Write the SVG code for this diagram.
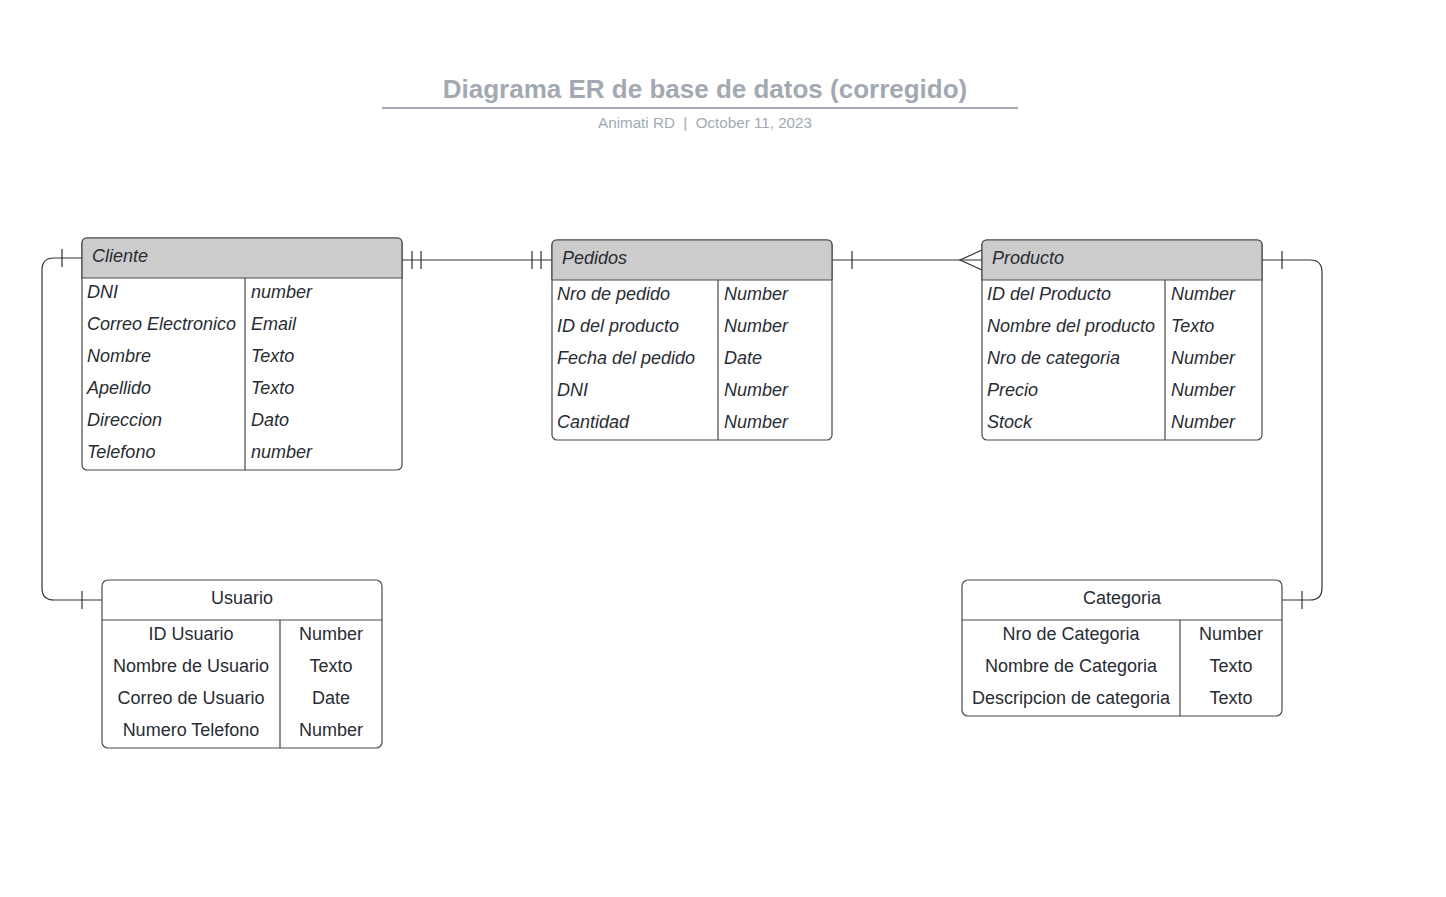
<svg xmlns="http://www.w3.org/2000/svg" width="1446" height="897" viewBox="0 0 1446 897">
<style>
.box{fill:#ffffff;stroke:#4a4a4a;stroke-width:1.2}
.hdr{fill:#cccccc;stroke:#4a4a4a;stroke-width:1.2}
.sep{stroke:#4a4a4a;stroke-width:1.2;fill:none}
.t{font-family:"Liberation Sans",Arial,sans-serif;font-size:18px;fill:#282c33}
.i{font-style:italic}
.c{text-anchor:middle}
.ln{stroke:#333333;stroke-width:1.2;fill:none}
</style>
<rect width="1446" height="897" fill="#ffffff"/>
<g id="title">
<text x="705" y="98" text-anchor="middle" font-family="Liberation Sans,Arial,sans-serif" font-size="26" font-weight="bold" fill="#a3a9b3">Diagrama ER de base de datos (corregido)</text>
<line x1="382" y1="108" x2="1018" y2="108" stroke="#a3a9b3" stroke-width="2"/>
<text x="705" y="128" text-anchor="middle" font-family="Liberation Sans,Arial,sans-serif" font-size="15.2" fill="#a3a9b3" xml:space="preserve">Animati RD  |  October 11, 2023</text>
</g>
<g id="connectors">
<path class="ln" d="M402 260 H552"/>
<path class="ln" d="M412 251 V269 M421 251 V269 M532 251 V269 M541 251 V269"/>
<path class="ln" d="M832 260 H982"/>
<path class="ln" d="M852 251 V269 M982 250 L960 260 L982 270"/>
<path class="ln" d="M1262 260 H1310 Q1322 260 1322 272 V588 Q1322 600 1310 600 H1282"/>
<path class="ln" d="M1282 251 V269 M1302 591 V609"/>
<path class="ln" d="M82 258 H54 Q42 258 42 270 V588 Q42 600 54 600 H102"/>
<path class="ln" d="M62 249 V267 M82 591 V609"/>
</g>
<g id="cliente">
<rect class="box" x="82" y="238" width="320" height="232" rx="5"/>
<path class="hdr" d="M82 278 V243 Q82 238 87 238 H397 Q402 238 402 243 V278 Z"/>
<path class="sep" d="M245 278 V470"/>
<text class="t i" x="92" y="262">Cliente</text>
<text class="t i" x="87" y="298">DNI</text><text class="t i" x="251" y="298">number</text>
<text class="t i" x="87" y="330">Correo Electronico</text><text class="t i" x="251" y="330">Email</text>
<text class="t i" x="87" y="362">Nombre</text><text class="t i" x="251" y="362">Texto</text>
<text class="t i" x="87" y="394">Apellido</text><text class="t i" x="251" y="394">Texto</text>
<text class="t i" x="87" y="426">Direccion</text><text class="t i" x="251" y="426">Dato</text>
<text class="t i" x="87" y="458">Telefono</text><text class="t i" x="251" y="458">number</text>
</g>
<g id="pedidos">
<rect class="box" x="552" y="240" width="280" height="200" rx="5"/>
<path class="hdr" d="M552 280 V245 Q552 240 557 240 H827 Q832 240 832 245 V280 Z"/>
<path class="sep" d="M718 280 V440"/>
<text class="t i" x="562" y="264">Pedidos</text>
<text class="t i" x="557" y="300">Nro de pedido</text><text class="t i" x="724" y="300">Number</text>
<text class="t i" x="557" y="332">ID del producto</text><text class="t i" x="724" y="332">Number</text>
<text class="t i" x="557" y="364">Fecha del pedido</text><text class="t i" x="724" y="364">Date</text>
<text class="t i" x="557" y="396">DNI</text><text class="t i" x="724" y="396">Number</text>
<text class="t i" x="557" y="428">Cantidad</text><text class="t i" x="724" y="428">Number</text>
</g>
<g id="producto">
<rect class="box" x="982" y="240" width="280" height="200" rx="5"/>
<path class="hdr" d="M982 280 V245 Q982 240 987 240 H1257 Q1262 240 1262 245 V280 Z"/>
<path class="sep" d="M1165 280 V440"/>
<text class="t i" x="992" y="264">Producto</text>
<text class="t i" x="987" y="300">ID del Producto</text><text class="t i" x="1171" y="300">Number</text>
<text class="t i" x="987" y="332">Nombre del producto</text><text class="t i" x="1171" y="332">Texto</text>
<text class="t i" x="987" y="364">Nro de categoria</text><text class="t i" x="1171" y="364">Number</text>
<text class="t i" x="987" y="396">Precio</text><text class="t i" x="1171" y="396">Number</text>
<text class="t i" x="987" y="428">Stock</text><text class="t i" x="1171" y="428">Number</text>
</g>
<g id="usuario">
<rect class="box" x="102" y="580" width="280" height="168" rx="6"/>
<path class="sep" d="M102 620 H382 M280 620 V748"/>
<text class="t c" x="242" y="604">Usuario</text>
<text class="t c" x="191" y="640">ID Usuario</text><text class="t c" x="331" y="640">Number</text>
<text class="t c" x="191" y="672">Nombre de Usuario</text><text class="t c" x="331" y="672">Texto</text>
<text class="t c" x="191" y="704">Correo de Usuario</text><text class="t c" x="331" y="704">Date</text>
<text class="t c" x="191" y="736">Numero Telefono</text><text class="t c" x="331" y="736">Number</text>
</g>
<g id="categoria">
<rect class="box" x="962" y="580" width="320" height="136" rx="6"/>
<path class="sep" d="M962 620 H1282 M1180 620 V716"/>
<text class="t c" x="1122" y="604">Categoria</text>
<text class="t c" x="1071" y="640">Nro de Categoria</text><text class="t c" x="1231" y="640">Number</text>
<text class="t c" x="1071" y="672">Nombre de Categoria</text><text class="t c" x="1231" y="672">Texto</text>
<text class="t c" x="1071" y="704">Descripcion de categoria</text><text class="t c" x="1231" y="704">Texto</text>
</g>
</svg>
